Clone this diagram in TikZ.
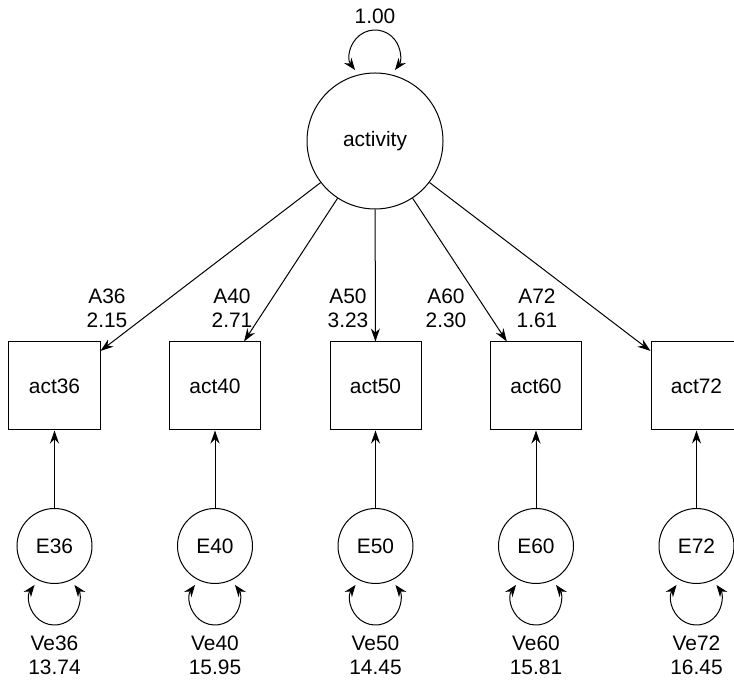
\documentclass[tikz,border=0pt]{standalone}
\usepackage{fontspec}
\setmainfont{Liberation Sans}
\usetikzlibrary{arrows.meta}
\begin{document}
\begin{tikzpicture}[x=1bp,y=1bp,
  every node/.style={font=\fontsize{21}{24}\selectfont, inner sep=0pt},
  obs/.style={draw, line width=1bp, minimum width=91bp, minimum height=88bp},
  lat/.style={draw, circle, line width=1bp, minimum size=136bp},
  err/.style={draw, circle, line width=1bp, minimum size=75bp},
  arr/.style={line width=1bp, -{Stealth[length=13bp,width=9bp]}},
  loopar/.style={line width=1bp, {Stealth[length=12bp,width=9bp]}-{Stealth[length=12bp,width=9bp]}},
  lab/.style={align=center}]
\useasboundingbox (0,0) rectangle (734,680);
\node[lat] (act) at (375,539) {activity};
\coordinate (ctop) at ([shift={(0,86)}]act.center);
\draw[loopar] ([shift={(217:25bp)}]ctop) arc[start angle=217,end angle=-37,radius=25bp];
\node (ltop) at (375,664) {1.00};
\foreach \n/\x/\lx/\av/\ve in {36/54.5/107/2.15/13.74, 40/215/232/2.71/15.95, 50/375.5/348/3.23/14.45, 60/536/446/2.30/15.81, 72/696.5/537/1.61/16.45} {
  \node[obs] (b\n) at (\x,294) {act\n};
  \node[err] (e\n) at (\x,134) {E\n};
  \node[lab] (la\n) at (\lx,372) {A\n\\\av};
  \node[lab] (lv\n) at (\x,24.5) {Ve\n\\\ve};
  \draw[arr] (act) -- (b\n);
  \draw[arr] (e\n) -- (b\n);
  \coordinate (c\n) at ([shift={(0,-54)}]e\n.center);
  \draw[loopar] ([shift={(143:25bp)}]c\n) arc[start angle=143,end angle=397,radius=25bp];
}
\end{tikzpicture}
\end{document}
